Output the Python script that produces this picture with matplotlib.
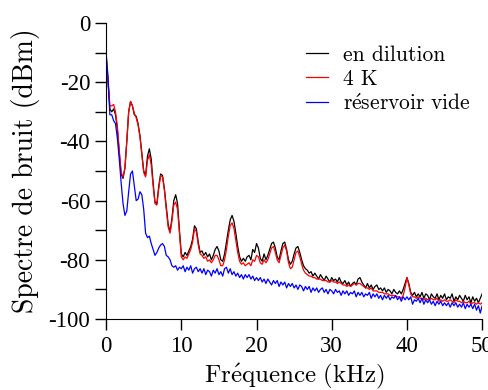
import numpy as np
import matplotlib
matplotlib.use('Agg')
import matplotlib.pyplot as plt
from matplotlib.ticker import MultipleLocator

plt.rcParams['font.family'] = ['cmr10', 'DejaVu Serif']
plt.rcParams['mathtext.fontset'] = 'cm'
plt.rcParams['axes.unicode_minus'] = False

# frequency grid, kHz (0.25 kHz step, 0 -> 50)
freq = np.arange(201) * 0.25

# en dilution (black), dBm
dilution = [
    # 0 - 10 kHz
    -12, -20, -29, -30, -29, -31, -36, -44, -51, -52.5,
    -49, -40, -30, -26.5, -28, -31, -31.5, -34, -38, -44,
    -50, -51.5, -45, -42.5, -46, -54, -60.5, -61, -55, -51,
    -51.5, -56, -62, -68, -70.5, -66, -60, -58, -61, -70, -78,
    # 10 - 20 kHz
    -79, -77.5, -78.5, -77, -75.5, -73, -68.5, -69.5, -74, -77.5,
    -77, -78.5, -77.5, -79, -78, -80, -78.5, -76.5, -75.5, -77,
    -80, -80.5, -78, -74, -70, -66.5, -65, -67, -71, -75.5,
    -79, -80.5, -79.5, -80.5, -79, -78.5, -80, -76.5, -77.5, -74.5,
    # 20 - 30 kHz
    -76, -79.5, -80.5, -78, -80, -78.5, -76.5, -74.5, -74, -76,
    -79, -80, -77, -74.5, -74, -76.5, -80, -81.5, -80.5, -78,
    -76, -75.5, -77.5, -80, -82, -83, -83.5, -84.5, -84, -85.5,
    -84.5, -85.5, -86.5, -85, -86, -87, -85.5, -86.5, -87.5, -86,
    # 30 - 40 kHz
    -87, -86.5, -87.5, -86, -87.5, -88, -87, -88.5, -87.5, -89,
    -88, -87.5, -88.5, -86.5, -86, -87.5, -88.5, -89.5, -88, -89.5,
    -88.5, -90, -89, -88.5, -90, -89.5, -90.5, -89.5, -91, -90,
    -90.5, -91.5, -90, -91, -91.5, -90.5, -91.5, -90, -88, -86,
    # 40 - 50 kHz
    -88, -91, -92, -91, -92.5, -91.5, -92.5, -91, -93, -91.5,
    -92, -93.5, -91.5, -92.5, -93, -91.5, -93.5, -92, -93, -91.5,
    -93.5, -92.5, -93, -91.5, -94, -92.5, -93.5, -92, -93, -94,
    -92, -93.5, -92.5, -94.5, -92.5, -94, -93, -94.5, -93, -91.5,
]

# 4 K (red), dBm
four_k = [
    # 0 - 10 kHz
    -11, -19, -28, -28, -27.5, -30, -35, -43, -50.5, -52,
    -49, -40, -30, -26.5, -28, -30.5, -32, -34.5, -38.5, -44.5,
    -50.5, -52, -46.5, -44.5, -48, -55, -61, -61.5, -56, -51.5,
    -52, -56.5, -63, -69, -71, -67, -61.5, -60.5, -63, -71, -79,
    # 10 - 20 kHz
    -80, -79, -79.5, -78, -76.5, -74, -69.5, -70.5, -75, -78,
    -78.5, -79.5, -79, -80.5, -80, -81, -80, -78.5, -78.5, -80,
    -82, -82, -80, -76.5, -72, -68.5, -67.5, -69.5, -73.5, -77.5,
    -80.5, -81.5, -81, -82, -81.5, -81, -82, -80, -80.5, -78.5,
    # 20 - 30 kHz
    -79, -81, -81.5, -80, -81, -80, -78, -76, -75.5, -77.5,
    -80, -81, -78.5, -76, -75, -77, -81, -83, -82.5, -80,
    -77.5, -77, -79, -81.5, -83.5, -84.5, -85, -85.5, -85.5, -86,
    -86, -86.5, -86.5, -86.5, -87, -87, -87, -87.5, -87.5, -87,
    # 30 - 40 kHz
    -87.5, -87.5, -88, -87.5, -88, -88.5, -88.5, -89, -88.5, -89,
    -88.5, -88, -88.5, -88, -88, -88.5, -89, -89.5, -89.5, -90,
    -89.5, -90.5, -90.5, -90.5, -91, -91, -91, -91.5, -91.5, -91.5,
    -92, -92, -92, -92.5, -92.5, -92.5, -93, -92, -89.5, -86,
    # 40 - 50 kHz
    -88.5, -91.5, -92.5, -92.5, -93, -92.5, -93, -93, -93.5, -93,
    -93.5, -93.5, -93, -93.5, -93.5, -93, -94, -93.5, -94, -93.5,
    -94, -94, -93.5, -94, -94.5, -93.5, -94, -94, -94.5, -94,
    -94.5, -94.5, -94, -95, -94.5, -94.5, -95, -94.5, -95, -94.5,
]

# reservoir vide (blue), dBm
vide = [
    # 0 - 10 kHz
    -10, -18, -31, -31, -33, -34, -39, -46, -54, -61,
    -65, -63.5, -57, -51, -50, -55, -60, -59.5, -57, -58,
    -63, -71, -72.5, -72, -74.5, -76.5, -78.5, -77.5, -76, -75,
    -74.5, -75.5, -78.5, -79, -80, -82, -82.5, -82, -83.5, -82.5, -83,
    # 10 - 20 kHz
    -82, -84, -82.5, -83.5, -82, -84.5, -83, -82.5, -84, -83,
    -84.5, -83, -85, -83.5, -84, -85.5, -83.5, -84.5, -83, -85,
    -84, -85.5, -83, -82.5, -84.5, -83, -85, -84, -85.5, -84.5,
    -86, -85, -86.5, -85, -86, -85, -86.5, -85.5, -87, -86,
    # 20 - 30 kHz
    -87, -86, -87.5, -86.5, -88, -86.5, -87.5, -88.5, -87, -88,
    -87, -89, -87.5, -88.5, -87.5, -89.5, -88, -89, -88, -89.5,
    -88.5, -90, -88.5, -89, -90.5, -89, -90, -89, -91, -89.5,
    -90.5, -89.5, -91, -90, -89.5, -91, -90, -91.5, -90, -90.5,
    # 30 - 40 kHz
    -91.5, -90, -91, -90.5, -92, -90.5, -91.5, -90.5, -92, -91,
    -91.5, -90.5, -92.5, -91, -92, -91, -92.5, -91.5, -92, -91,
    -93, -91.5, -92.5, -91.5, -93, -92, -93.5, -92, -93, -92,
    -93.5, -92.5, -93, -92, -93.5, -92.5, -94, -92.5, -93.5, -92.5,
    # 40 - 50 kHz
    -93.5, -92.5, -95, -93.5, -94, -93, -94.5, -93, -95, -93.5,
    -94.5, -93.5, -95, -94, -95.5, -94, -95, -94, -95.5, -94.5,
    -95.5, -94.5, -96, -94.5, -95.5, -94.5, -96, -95, -96, -94.5,
    -96.5, -95, -96, -95, -96.5, -95, -97, -95.5, -98, -95.5,
]

labels = ['en dilution', '4 K', r'$\mathrm{r\acute{e}servoir\ vide}$']
colors = ['black', 'red', 'blue']

fig = plt.figure(figsize=(4.89, 3.90), dpi=100)
ax = fig.add_axes([0.217, 0.182, 0.769, 0.759])

for y, lab, c in zip([dilution, four_k, vide], labels, colors):
    ax.plot(freq, y, color=c, lw=0.9, label=lab)

ax.set_xlim(0, 50)
ax.set_ylim(-100, 0)
ax.set_xticks([0, 10, 20, 30, 40, 50])
ax.set_xticklabels(['0', '10', '20', '30', '40', '50'])
ax.set_yticks([0, -20, -40, -60, -80, -100])
ax.set_yticklabels(['0', '-20', '-40', '-60', '-80', '-100'])
ax.yaxis.set_minor_locator(MultipleLocator(10))

for s in ['top', 'right']:
    ax.spines[s].set_visible(False)
ax.tick_params(which='both', direction='out', length=8, width=1, labelsize=16.5)
ax.tick_params(axis='x', pad=4)
for t in ax.get_xticklabels() + ax.get_yticklabels():
    t.set_fontfamily('Liberation Serif')

ax.set_xlabel(r'$\mathrm{Fr\acute{e}quence\ (kHz)}$', fontsize=18, labelpad=4)
ax.set_ylabel('Spectre de bruit (dBm)', fontsize=20, labelpad=6)

ax.legend(loc='upper right', bbox_to_anchor=(1.02, 0.99), frameon=False,
          fontsize=15.5, handlelength=1.0, handletextpad=0.7, labelspacing=0.2)

fig.savefig('out.png', dpi=100)
